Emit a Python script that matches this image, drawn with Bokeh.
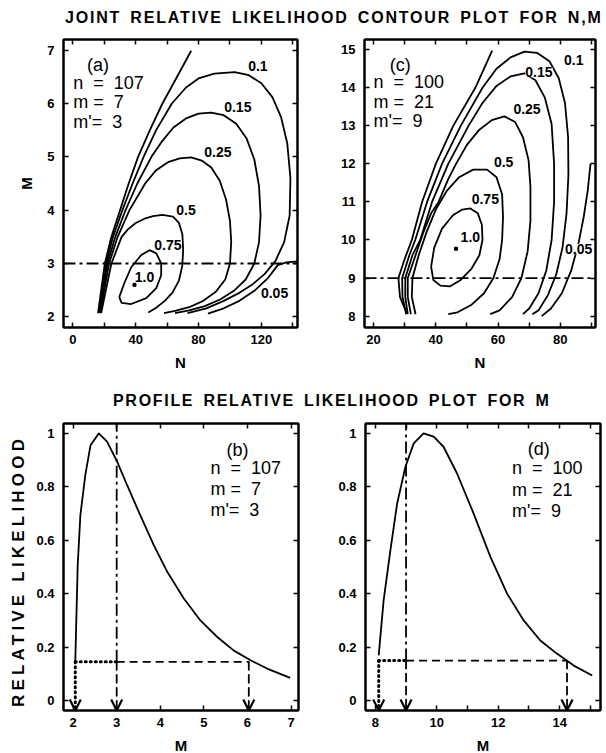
from bokeh.plotting import figure
from bokeh.layouts import column, row
from bokeh.models import Range1d, FixedTicker, LinearAxis, Label, Arrow, OpenHead, Div, Span
from bokeh.embed import file_html
from bokeh.resources import INLINE

FONT = "Liberation Sans"
NB = "\u00a0"

# ---------------- data: panel (a)  contours of R(N, M), n=107, m=7, m'=3 ----------------
a_c075_N = [29.5, 32.7, 37.1, 43.5, 48.8, 53.1, 56.2, 56.2, 53.1, 46.7, 37.1, 31.0, 29.5]
a_c075_M = [2.37, 2.63, 2.93, 3.16, 3.25, 3.19, 3.00, 2.78, 2.54, 2.35, 2.24, 2.26, 2.37]
a_c05_N = [18.0, 21.0, 24.5, 31.0, 35.0, 40.0, 45.6, 51.0, 57.0, 63.7, 67.5, 69.7, 70.2, 69.6, 67.5, 63.5, 58.5, 53.0, 48.0]
a_c05_M = [2.07, 2.50, 3.00, 3.50, 3.64, 3.76, 3.84, 3.89, 3.91, 3.88, 3.76, 3.55, 3.25, 2.95, 2.68, 2.46, 2.30, 2.17, 2.08]
a_c025_N = [17.5, 20.0, 23.0, 28.5, 36.0, 46.0, 53.0, 60.5, 68.0, 75.4, 82.0, 88.1, 93.5, 97.5, 100.0, 100.8, 100.0, 97.0, 91.0, 83.0, 74.0, 65.0, 58.0]
a_c025_M = [2.07, 2.50, 3.00, 3.50, 4.00, 4.50, 4.75, 4.90, 4.97, 4.99, 4.93, 4.80, 4.55, 4.20, 3.80, 3.40, 3.00, 2.70, 2.47, 2.30, 2.18, 2.11, 2.07]
a_c015_N = [17.0, 19.3, 22.0, 27.0, 33.5, 41.0, 50.0, 57.0, 64.0, 72.0, 80.0, 88.0, 96.0, 104.0, 110.5, 115.5, 118.5, 119.5, 118.5, 115.5, 110.0, 103.0, 94.0, 84.0, 74.0, 65.0]
a_c015_M = [2.07, 2.50, 3.00, 3.50, 4.00, 4.50, 5.00, 5.30, 5.55, 5.72, 5.81, 5.83, 5.78, 5.62, 5.35, 4.95, 4.45, 3.90, 3.40, 3.00, 2.70, 2.50, 2.33, 2.20, 2.12, 2.07]
a_c01_N = [16.5, 18.7, 21.2, 25.5, 31.5, 38.0, 45.0, 53.0, 63.0, 72.0, 80.0, 90.0, 103.0, 112.0, 120.0, 127.0, 132.5, 136.5, 138.5, 138.0, 134.5, 129.0, 122.0, 114.0, 106.0, 96.0, 85.0, 73.0]
a_c01_M = [2.07, 2.50, 3.00, 3.50, 4.00, 4.50, 5.00, 5.50, 6.00, 6.30, 6.47, 6.56, 6.59, 6.53, 6.38, 6.12, 5.75, 5.25, 4.60, 3.90, 3.40, 3.05, 2.80, 2.60, 2.45, 2.30, 2.16, 2.07]
a_c005L_N = [16.0, 18.0, 20.3, 24.5, 30.0, 35.5, 41.5, 49.0, 57.0, 62.6, 75.3]
a_c005L_M = [2.07, 2.50, 3.00, 3.50, 4.00, 4.50, 5.00, 5.50, 6.00, 6.30, 6.99]
a_c005R_N = [143.0, 136.0, 130.4, 124.0, 116.0, 106.0, 96.0, 86.0]
a_c005R_M = [3.04, 3.02, 2.97, 2.72, 2.50, 2.30, 2.16, 2.06]
a_mle = (39.2, 2.60)
a_true_M = 3

# ---------------- data: panel (c)  n=100, m=21, m'=9 ----------------
c_c075_N = [38.5, 39.5, 42.0, 45.5, 48.5, 51.1, 53.5, 54.8, 55.0, 54.0, 51.5, 48.0, 44.5, 41.5, 39.2, 38.5]
c_c075_M = [9.30, 9.80, 10.30, 10.65, 10.80, 10.83, 10.70, 10.40, 10.00, 9.60, 9.25, 8.95, 8.78, 8.80, 8.95, 9.30]
c_c05_N = [33.5, 32.3, 32.5, 34.5, 37.0, 40.0, 43.6, 47.5, 52.0, 56.5, 59.5, 61.3, 61.6, 61.3, 60.5, 58.5, 55.5, 51.5, 47.0, 44.0]
c_c05_M = [8.05, 8.50, 9.00, 9.60, 10.20, 10.80, 11.30, 11.65, 11.85, 11.85, 11.65, 11.20, 10.60, 10.00, 9.50, 9.00, 8.60, 8.30, 8.10, 8.05]
c_c025_N = [32.0, 31.0, 31.0, 33.5, 36.0, 38.5, 40.9, 44.0, 46.5, 50.0, 54.0, 58.0, 62.0, 65.5, 68.0, 69.8, 70.4, 70.4, 69.5, 67.5, 64.5, 60.5, 57.5]
c_c025_M = [8.05, 8.50, 9.00, 9.60, 10.20, 10.70, 11.00, 11.60, 12.00, 12.50, 12.90, 13.15, 13.25, 13.10, 12.70, 12.10, 11.40, 10.50, 9.70, 9.00, 8.50, 8.15, 8.05]
c_c015_N = [31.0, 30.2, 30.2, 32.5, 35.0, 38.8, 44.0, 50.5, 55.0, 59.5, 64.0, 68.5, 72.0, 75.0, 77.2, 78.0, 78.0, 77.2, 75.5, 73.0, 70.0, 68.0]
c_c015_M = [8.05, 8.50, 9.00, 9.60, 10.00, 11.00, 12.00, 13.00, 13.60, 14.05, 14.30, 14.38, 14.20, 13.75, 13.05, 12.00, 11.00, 10.00, 9.20, 8.60, 8.20, 8.05]
c_c01_N = [30.5, 29.3, 29.2, 31.5, 33.4, 37.2, 42.0, 48.0, 55.0, 59.5, 64.0, 68.5, 72.5, 76.5, 79.5, 81.5, 82.5, 82.6, 82.0, 80.7, 78.7, 76.0, 73.0, 71.0]
c_c01_M = [8.05, 8.50, 9.00, 9.60, 10.00, 11.00, 12.00, 13.00, 14.00, 14.50, 14.80, 14.95, 14.92, 14.70, 14.25, 13.60, 12.70, 11.70, 10.70, 9.80, 9.10, 8.55, 8.15, 8.05]
c_c005L_N = [30.7, 28.5, 28.0, 30.0, 32.3, 35.6, 40.0, 45.6, 52.7, 58.1]
c_c005L_M = [8.07, 8.50, 9.00, 9.50, 10.00, 11.00, 12.00, 13.00, 14.00, 14.98]
c_c005R_N = [89.7, 88.8, 87.5, 85.8, 83.5, 80.5, 77.0, 74.0]
c_c005R_M = [12.00, 11.30, 10.60, 9.90, 9.20, 8.60, 8.20, 8.00]
c_mle = (46.5, 9.77)
c_true_M = 9

# ---------------- data: panel (b)  profile relative likelihood, n=107 ----------------
b_M = [2.05, 2.106, 2.167, 2.28, 2.40, 2.59, 2.78, 3.01, 3.24, 3.54, 3.85, 4.16, 4.54, 4.92, 5.30, 5.68, 6.07, 6.45, 6.98]
b_R = [0.145, 0.507, 0.694, 0.844, 0.956, 1.0, 0.969, 0.894, 0.806, 0.694, 0.582, 0.482, 0.382, 0.300, 0.239, 0.188, 0.151, 0.120, 0.085]
b_level = 0.145
b_ci = (2.05, 6.03)
b_true_M = 3

# ---------------- data: panel (d)  profile relative likelihood, n=100 ----------------
d_M = [8.11, 8.27, 8.49, 8.71, 8.98, 9.25, 9.57, 9.90, 10.22, 10.66, 11.20, 11.75, 12.29, 12.83, 13.37, 13.92, 14.46, 15.06]
d_R = [0.169, 0.375, 0.5625, 0.7375, 0.875, 0.9625, 1.0, 0.9875, 0.95, 0.85, 0.70, 0.537, 0.40, 0.30, 0.225, 0.175, 0.131, 0.094]
d_level = 0.15
d_ci = (8.11, 14.24)
d_true_M = 9

# tick sets (labelled, unlabelled)
a_xticks, a_xminor = [0, 40, 80, 120], [20, 60, 100, 140]
a_yticks = [2, 3, 4, 5, 6, 7]
c_xticks, c_xminor = [20, 40, 60, 80], [30, 50, 70, 90]
c_yticks = [8, 9, 10, 11, 12, 13, 14, 15]
b_xticks = [2, 3, 4, 5, 6, 7]
d_xticks, d_xminor = [8, 10, 12, 14], [9, 11, 13, 15]
r_yticks = [0, 0.2, 0.4, 0.6, 0.8, 1]

LW = 1.8
DASHDOT = "12 4 3 4"
DASHED = "8 5"
DOTTED = "1 4"


def make_fig(xr, yr, fw, fh, bl, br, bt, bb, xticks, xminor, yticks, xlab, ylab):
    p = figure(frame_width=fw, frame_height=fh, x_range=Range1d(*xr), y_range=Range1d(*yr),
               output_backend="svg", toolbar_location=None,
               min_border_left=bl, min_border_right=br, min_border_top=bt, min_border_bottom=bb)
    p.xgrid.visible = False
    p.ygrid.visible = False
    p.outline_line_color = "black"
    p.outline_line_width = 2
    for ax, tk, mn in ((p.xaxis[0], xticks, xminor), (p.yaxis[0], yticks, [])):
        ax.ticker = FixedTicker(ticks=tk, minor_ticks=mn)
        ax.major_tick_in = 5
        ax.major_tick_out = 0
        ax.minor_tick_in = 5
        ax.minor_tick_out = 0
        ax.major_tick_line_width = 1.5
        ax.minor_tick_line_width = 1.5
        ax.axis_line_width = 2
        ax.major_label_text_font = FONT
        ax.major_label_text_font_size = "13px"
        ax.major_label_text_font_style = "bold"
        ax.major_label_text_color = "black"
        ax.axis_label_text_font = FONT
        ax.axis_label_text_font_size = "15px"
        ax.axis_label_text_font_style = "bold"
        ax.axis_label_text_color = "black"
    p.xaxis[0].axis_label = xlab
    if ylab:
        p.yaxis[0].axis_label = ylab
    p.xaxis[0].major_label_standoff = 7
    p.xaxis[0].axis_label_standoff = 7
    p.yaxis[0].major_label_standoff = 9
    p.yaxis[0].axis_label_standoff = 9
    for loc, tk in (("above", xticks + xminor), ("right", yticks)):
        ax = LinearAxis(ticker=FixedTicker(ticks=[], minor_ticks=tk), major_tick_in=0, major_tick_out=0,
                        minor_tick_in=5, minor_tick_out=0, minor_tick_line_width=1.5,
                        axis_line_width=2, major_label_standoff=0)
        p.add_layout(ax, loc)
    return p


def txt(p, x, y, s, size="18px", align="left", bold=False, bg=False):
    lab = Label(x=x, y=y, text=s, text_font=FONT, text_font_size=size, text_align=align,
                text_baseline="middle", text_color="black",
                text_font_style="bold" if bold else "normal")
    if bg:
        lab.background_fill_color = "white"
    p.add_layout(lab)


def info(p, x, y0, dy, n, m, mp, tag, tx):
    txt(p, tx, y0 + dy * 0.9, tag, align="center")
    txt(p, x, y0, "n" + NB + NB + "=" + NB + NB + n)
    txt(p, x, y0 - dy, "m" + NB + "=" + NB + NB + m)
    txt(p, x, y0 - 2 * dy, "m'=" + NB + NB + mp)


# ---------------- panel (a) ----------------
pa = make_fig((-6, 143), (1.8, 7.2), 234, 288, 63, 10, 9, 62, a_xticks, a_xminor, a_yticks, "N", "M")
for xs, ys in ((a_c075_N, a_c075_M), (a_c05_N, a_c05_M), (a_c025_N, a_c025_M), (a_c015_N, a_c015_M),
               (a_c01_N, a_c01_M), (a_c005L_N, a_c005L_M), (a_c005R_N, a_c005R_M)):
    pa.line(xs, ys, line_color="black", line_width=LW)
pa.add_layout(Span(location=a_true_M, dimension="width", line_color="black", line_width=1.8, line_dash=DASHDOT))
pa.scatter([a_mle[0]], [a_mle[1]], marker="square", size=3, color="black")
for (x, y), s in zip([(60.5, 3.34), (72, 4.0), (92.3, 5.09), (105, 5.93), (117.8, 6.71), (128.4, 2.44), (45.6, 2.75)],
                     ["0.75", "0.5", "0.25", "0.15", "0.1", "0.05", "1.0"]):
    txt(pa, x, y, s, size="14px", align="center", bold=True, bg=True)
info(pa, 0.2, 6.39, 0.37, "107", "7", "3", "(a)", 16)

# ---------------- panel (c) ----------------
pc = make_fig((17.1, 91.3), (7.7, 15.27), 231, 288, 57, 5, 9, 62, c_xticks, c_xminor, c_yticks, "N", "")
for xs, ys in ((c_c075_N, c_c075_M), (c_c05_N, c_c05_M), (c_c025_N, c_c025_M), (c_c015_N, c_c015_M),
               (c_c01_N, c_c01_M), (c_c005L_N, c_c005L_M), (c_c005R_N, c_c005R_M)):
    pc.line(xs, ys, line_color="black", line_width=LW)
pc.add_layout(Span(location=c_true_M, dimension="width", line_color="black", line_width=1.8, line_dash=DASHDOT))
pc.scatter([c_mle[0]], [c_mle[1]], marker="square", size=3, color="black")
for (x, y), s in zip([(55.9, 11.08), (61.8, 12.05), (69.3, 13.45), (73.1, 14.41), (84.3, 14.72), (85.9, 9.77), (51.1, 10.08)],
                     ["0.75", "0.5", "0.25", "0.15", "0.1", "0.05", "1.0"]):
    txt(pc, x, y, s, size="14px", align="center", bold=True, bg=True)
info(pc, 20.0, 14.14, 0.5, "100", "21", "9", "(c)", 28.6)


def profile(p, Ms, Rs, level, ci, true_M, ybot, ytop):
    p.line(Ms, Rs, line_color="black", line_width=LW)
    p.line([true_M, true_M], [level, ytop], line_color="black", line_width=1.8, line_dash=DASHDOT)
    p.line([ci[0], true_M], [level, level], line_color="black", line_width=3, line_dash=DOTTED, line_cap="round")
    p.line([true_M, ci[1]], [level, level], line_color="black", line_width=1.8, line_dash=DASHED)
    for x, dash, w in ((ci[0], DOTTED, 3), (true_M, DASHED, 1.8), (ci[1], DASHED, 1.8)):
        p.add_layout(Arrow(end=OpenHead(size=11, line_width=2.2, line_color="black"),
                           x_start=x, y_start=level, x_end=x, y_end=ybot,
                           line_width=w, line_dash=dash, line_color="black", line_cap="round"))


# ---------------- panel (b) ----------------
pb = make_fig((1.78, 7.17), (-0.037, 1.037), 235, 287, 31, 9, 10, 38, b_xticks, [], r_yticks, "M", "")
pb.xaxis[0].major_label_standoff = 6
pb.xaxis[0].axis_label_standoff = 3
profile(pb, b_M, b_R, b_level, b_ci, b_true_M, -0.037, 1.037)
info(pb, 5.15, 0.869, 0.077, "107", "7", "3", "(b)", 5.77)

# ---------------- panel (d) ----------------
pd_ = make_fig((7.68, 15.33), (-0.037, 1.037), 235, 287, 58, 4, 10, 38, d_xticks, d_xminor, r_yticks, "M", "")
pd_.xaxis[0].major_label_standoff = 6
pd_.xaxis[0].axis_label_standoff = 3
profile(pd_, d_M, d_R, d_level, d_ci, d_true_M, -0.037, 1.037)
info(pd_, 12.45, 0.869, 0.079, "100", "21", "9", "(d)", 13.32)

base = ("font-family:'Liberation Sans'; font-size:16px; font-weight:bold; "
        "word-spacing:3px; white-space:nowrap; color:black;")
t1 = Div(text='<div style="%s letter-spacing:1.8px; margin-left:65px; line-height:36px;">JOINT RELATIVE LIKELIHOOD CONTOUR PLOT FOR N,M</div>' % base,
         width=606, height=30, margin=(0, 0, 0, 0))
t2 = Div(text='<div style="%s letter-spacing:1.7px; margin-left:113px; line-height:24px;">PROFILE RELATIVE LIKELIHOOD PLOT FOR M</div>' % base,
         width=606, height=24, margin=(0, 0, 0, 0))
ylab = Div(text=('<div style="font-family:\'Liberation Sans\'; font-size:17px; font-weight:bold; letter-spacing:4.2px; '
                 'white-space:nowrap; color:black; writing-mode:vertical-rl; transform:rotate(180deg); width:32px; '
                 'height:335px; line-height:38px; text-align:center; text-indent:20px;">RELATIVE LIKELIHOOD</div>'),
           width=32, height=335, margin=(0, 0, 0, 0))

layout = column(t1, row(pa, pc), t2, row(ylab, pb, pd_))
open("out.html", "w").write(file_html(layout, INLINE))
